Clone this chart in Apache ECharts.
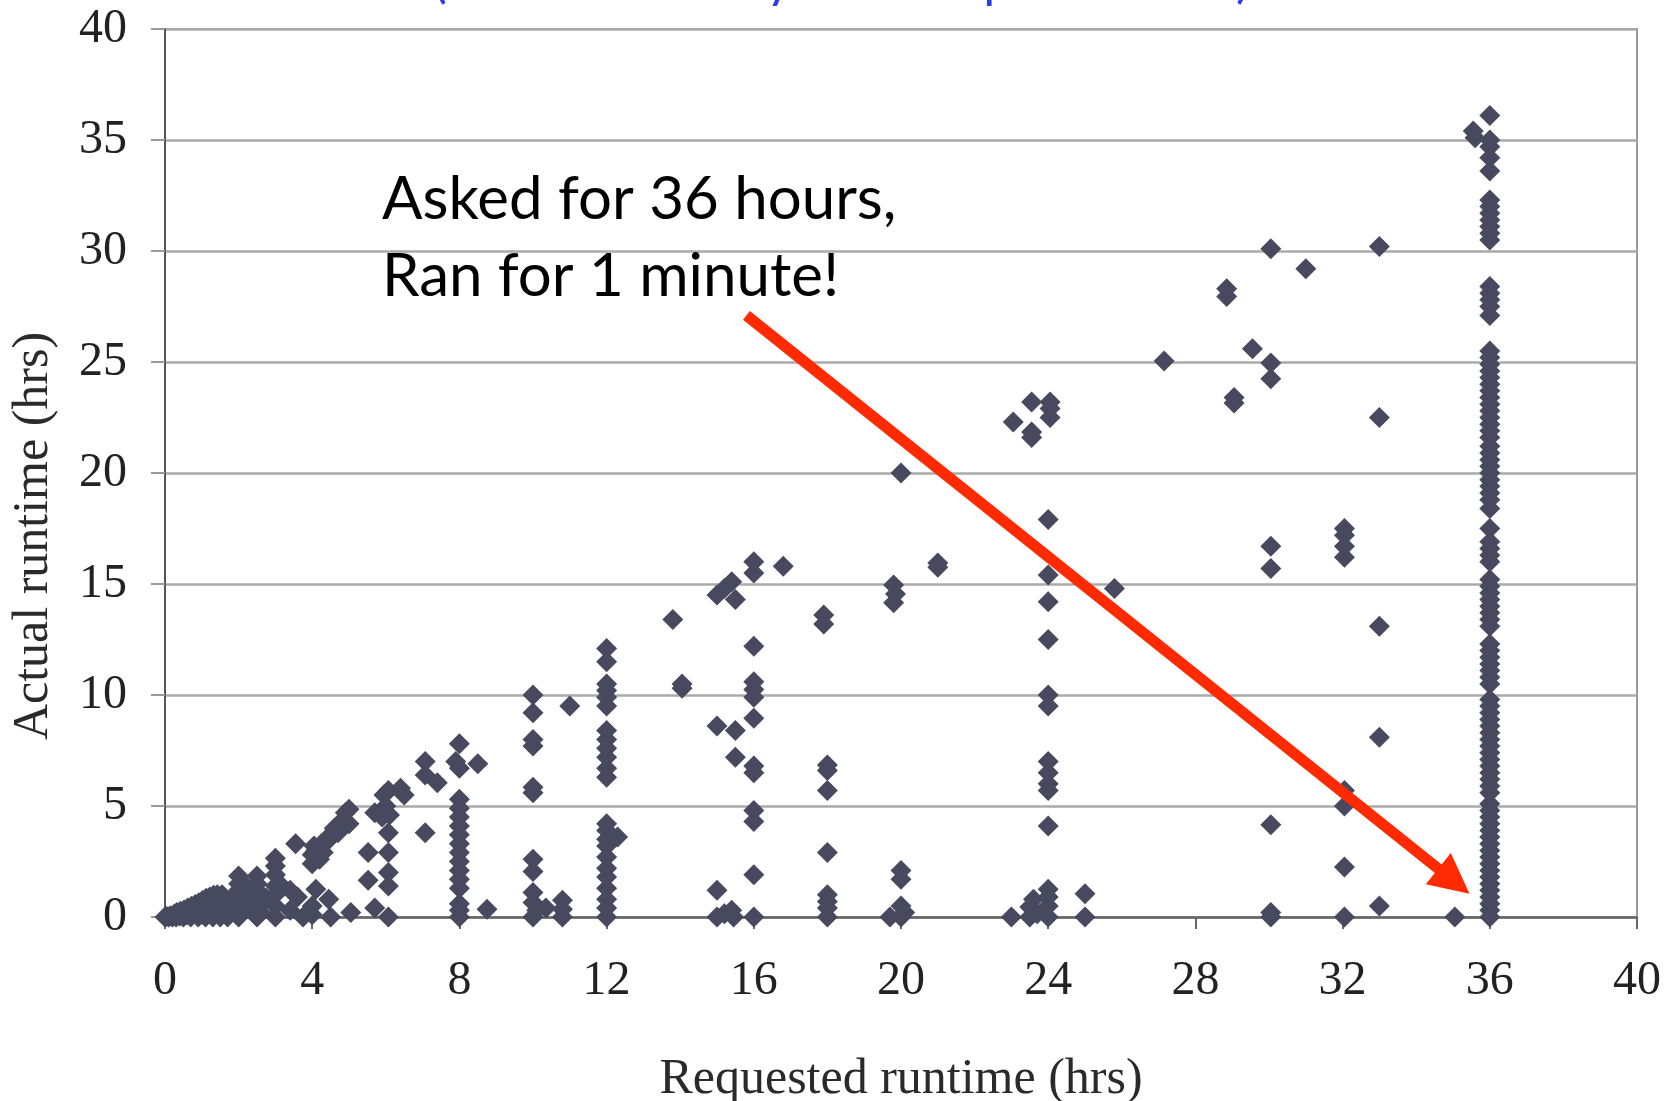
<!DOCTYPE html>
<html>
<head>
<meta charset="utf-8">
<script src="https://cdn.jsdelivr.net/npm/echarts@6/dist/echarts.min.js"></script>
<style>
html,body{margin:0;padding:0;background:#fff;}
#chart{width:1675px;height:1101px;}
</style>
</head>
<body>
<div id="chart"></div>
<script>
// ---- Data: [requested runtime (hrs), actual runtime (hrs)] ----
const reqUnder2 = [
  [0,0],[0.05,0.02],[0.1,0],[0.15,0.06],[0.2,0],[0.25,0.12],[0.3,0],[0.32,0.2],[0.4,0.05],[0.42,0.26],
  [0.5,0],[0.52,0.32],[0.6,0.1],[0.62,0.4],[0.7,0],[0.72,0.48],[0.8,0.2],[0.82,0.56],[0.9,0],[0.9,0.36],
  [0.92,0.64],[1.0,0.12],[1.0,0.46],[1.02,0.74],[1.1,0],[1.1,0.52],[1.12,0.84],[1.2,0.22],[1.22,0.9],
  [1.3,0],[1.3,0.56],[1.32,0.98],[1.4,0.3],[1.42,1.0],[1.5,0],[1.5,0.62],[1.55,1.0],[1.6,0.22],[1.62,0.8],
  [1.7,0],[1.7,0.45]
];
const req2to4 = [
  [2,0],[2,0.4],[2,0.8],[2,1.2],[2,1.5],[2,1.85],[1.95,1.0],[2.1,0.2],[2.2,1.4],[2.25,0.6],
  [2.5,0],[2.5,0.4],[2.5,0.8],[2.5,1.2],[2.5,1.5],[2.5,1.85],[2.4,1.0],[2.6,0.2],[2.75,0.85],
  [3,0],[3,0.5],[3,1.0],[3,1.4],[3,1.9],[3,2.3],[3,2.65],[3.2,1.35],[3.4,0.3],[3.4,1.2],
  [3.55,3.3],[3.6,0.9],[3.75,0]
];
const req4to7 = [
  [4,0.1],[4,0.5],[4.1,1.25],[4.0,2.4],[4.0,2.8],[4.05,3.2],[4.1,3.0],[4.2,2.6],[4.25,3.3],[4.3,2.9],
  [4.4,3.4],[4.45,0.8],[4.5,0],[4.5,3.7],[4.6,4.0],[4.7,3.8],[4.75,4.2],[4.85,4.4],[4.9,4.7],[5.0,4.85],
  [5.0,4.2],[5.05,0.2],[5.52,2.9],[5.52,1.65],[5.7,0.4],[5.7,4.7],[5.9,4.5],[5.95,5.5],[6.0,5.0],
  [6.1,4.6],[6.07,5.7],[6.07,3.8],[6.07,2.9],[6.07,2.0],[6.07,1.4],[6.07,0],[6.4,5.8],[6.5,5.5],
  [7.07,7.0],[7.07,6.4],[7.4,6.05],[7.07,3.8]
];
const req8to11 = [
  [8,7.8],[7.9,7.0],[8.0,6.7],[8.5,6.9],
  [8,5.3],[8,4.9],[8,4.5],[8,4.1],[8,3.7],[8,3.3],[8,2.9],[8,2.5],[8,2.1],[8,1.7],[8,1.3],
  [8,0.6],[8,0.3],[8,0],[8.75,0.35],
  [10,10],[10,9.2],[10,8.0],[10,7.7],[10,5.85],[10,5.6],[10,2.6],[10,2.05],[10,1.1],[10,0.65],
  [10.1,0.3],[10,0],[10.35,0.4],[10.8,0.75],[10.8,0.35],[10.8,0],[11.0,9.5]
];
const req12 = [
  [12,12.1],[12,11.5],[12,10.5],[12,10.2],[12,9.9],[12,9.5],[12,8.4],[12,8.0],[12,7.6],[12,7.2],
  [12,6.7],[12,6.3],[12,4.2],[12,3.9],[12,3.5],[12,3.2],[12,2.7],[12,2.2],[12,1.8],[12,1.3],
  [12,0.8],[12,0.4],[12,0],[12.3,3.6]
];
const req13to21 = [
  [13.8,13.4],[14.05,10.5],[14.05,10.3],
  [15.0,14.5],[15.2,14.8],[15.4,15.1],[15.5,14.3],[15.0,8.6],[15.5,8.4],[15.5,7.2],[15.0,1.2],
  [15.0,0],[15.2,0.15],[15.4,0.3],[15.45,0],
  [16,16.0],[16,15.5],[16,12.2],[16,10.6],[16,10.25],[16,9.9],[16,8.95],[16,6.8],[16,6.5],[16,4.8],
  [16,4.3],[16,1.9],[16,0],[16.8,15.8],
  [17.9,13.6],[17.9,13.2],[18,6.85],[18,6.6],[18,5.7],[18,2.9],[18,1.0],[18,0.7],[18,0.4],[18,0],
  [20,20],[19.8,14.95],[19.85,14.55],[19.8,14.15],[20,2.1],[20,1.7],[20,0.5],[20,0],[19.7,0],[20.1,0.2],
  [21,15.95],[21,15.75]
];
const req23to26 = [
  [23.05,22.3],[23.55,23.2],[23.55,21.85],[23.55,21.6],[24.05,23.2],[24.05,22.9],[24.05,22.5],
  [24,17.9],[24,15.4],[24,14.2],[24,12.5],[24,10.0],[24,9.5],[24,7.0],[24,6.5],[24,6.0],[24,5.7],
  [24,4.1],[24,1.25],[24,0.9],[24,0.5],[24,0],
  [23,0],[23.5,0.45],[23.5,0],[23.6,0.8],[23.7,0.15],
  [25,1.05],[25,0],[25.8,14.8]
];
const req27to35 = [
  [27.15,25.05],[28.85,28.3],[28.85,27.95],[29.05,23.4],[29.05,23.15],[29.55,25.6],
  [30.05,30.1],[30.05,24.95],[30.05,24.25],[30.05,16.7],[30.05,15.7],[30.05,4.15],[30.05,0.2],[30.05,0],
  [31.0,29.2],
  [32.05,17.5],[32.05,17.2],[32.05,16.7],[32.05,16.2],[32.05,5.7],[32.05,5.0],[32.05,2.25],[32.05,0],
  [33,30.2],[33,22.5],[33,13.1],[33,8.1],[33,0.5],
  [35.05,0],[35.55,35.4],[35.6,35.1]
];
const req36Actual = [
  36.1,35.0,34.7,34.2,33.6,32.3,32.0,31.7,31.4,31.1,30.8,30.5,28.4,28.1,27.8,27.5,27.1,
  25.5,25.2,24.9,24.6,24.3,24.0,23.7,23.4,23.1,22.8,22.5,22.2,21.9,21.6,21.2,20.9,20.6,20.3,
  20.0,19.7,19.4,19.1,18.8,18.4,17.5,16.9,16.6,16.3,16.0,15.2,14.9,14.6,14.3,14.0,13.7,13.4,
  13.1,12.3,12.0,11.7,11.4,11.1,10.8,10.5,9.8,9.5,9.2,8.9,8.6,8.3,8.0,7.7,7.4,7.1,6.8,6.5,
  6.2,5.9,5.6,5.1,4.8,4.5,4.2,3.9,3.6,3.3,3.0,2.7,2.4,2.1,1.8,1.5,1.2,0.9,0.6,0.3,0
];
const xTicks = [0,4,8,12,16,20,24,28,32,36,40];
const yTicks = [0,5,10,15,20,25,30,35,40];
const noteLines = ['Asked for 36 hours,', 'Ran for 1 minute!'];
const arrowFrom = [15.8, 27.1];   // data coords of arrow tail
const arrowTo = [35.45, 1.05];    // data coords of arrow tip
const titleText = '(Users are lousy at their predictions)';

const points = [].concat(
  reqUnder2, req2to4, req4to7, req8to11, req12, req13to21, req23to26, req27to35,
  req36Actual.map(v => [36, v])
);

const chart = echarts.init(document.getElementById('chart'));
const serif = '"Liberation Serif", "Times New Roman", serif';

const option = {
  animation: false,
  backgroundColor: '#ffffff',
  grid: {left: 165, right: 38, top: 29, bottom: 184, show: true, containLabel: false,
         outerBoundsMode: 'none',
         borderColor: '#9a9a9a', borderWidth: 2, backgroundColor: 'transparent'},
  xAxis: {
    type: 'value', min: xTicks[0], max: xTicks[xTicks.length-1], interval: 4,
    name: 'Requested runtime (hrs)', nameLocation: 'middle', nameGap: 138,
    nameTextStyle: {fontFamily: serif, fontSize: 50, color: '#2a2a2a'},
    axisLine: {show: true, onZero: false, lineStyle: {color: '#666', width: 2.5}},
    axisTick: {show: true, length: 12, lineStyle: {color: '#666', width: 2}},
    axisLabel: {fontFamily: serif, fontSize: 48, color: '#222', margin: 40},
    splitLine: {show: false}
  },
  yAxis: {
    type: 'value', min: yTicks[0], max: yTicks[yTicks.length-1], interval: 5,
    name: 'Actual runtime (hrs)', nameLocation: 'middle', nameGap: 106,
    nameTextStyle: {fontFamily: serif, fontSize: 50, color: '#2a2a2a', padding: [0, 126, 0, 0]},
    axisLine: {show: true, onZero: false, lineStyle: {color: '#555', width: 2}},
    axisTick: {show: true, length: 14, lineStyle: {color: '#999', width: 2}},
    axisLabel: {fontFamily: serif, fontSize: 48, color: '#222', margin: 38},
    splitLine: {show: true, lineStyle: {color: '#aaaaaa', width: 2.5}}
  },
  series: [{
    type: 'scatter',
    symbol: 'diamond',
    symbolSize: 21,
    itemStyle: {color: '#474a5e', opacity: 1},
    data: points
  }]
};
chart.setOption(option);

// Annotation: text and red arrow
const p1 = chart.convertToPixel({gridIndex: 0}, arrowFrom);
const p2 = chart.convertToPixel({gridIndex: 0}, arrowTo);
const dx = p2[0] - p1[0], dy = p2[1] - p1[1];
const len = Math.sqrt(dx*dx + dy*dy);
const ux = dx / len, uy = dy / len;
const headLen = 40, headHalf = 20;
const base = [p2[0] - ux*headLen, p2[1] - uy*headLen];
const nx = -uy, ny = ux;

chart.setOption({
  graphic: [
    {type: 'text', left: 433, top: -46, z: 10,
     style: {text: titleText, font: '52px Lato, "Noto Sans", sans-serif', fill: '#2b3fe6'}},
    {type: 'text', x: 382, y: 200, z: 10,
     style: {text: noteLines[0], font: '60px Lato, "Open Sans", sans-serif', fill: '#000',
             verticalAlign: 'middle', align: 'left'}},
    {type: 'text', x: 382, y: 277, z: 10,
     style: {text: noteLines[1], font: '60px Lato, "Open Sans", sans-serif', fill: '#000',
             verticalAlign: 'middle', align: 'left'}},
    {type: 'line', z: 10,
     shape: {x1: p1[0], y1: p1[1], x2: base[0] + ux*4, y2: base[1] + uy*4},
     style: {stroke: '#ff2a00', lineWidth: 11}},
    {type: 'polygon', z: 10,
     shape: {points: [[p2[0], p2[1]],
                      [base[0] + nx*headHalf, base[1] + ny*headHalf],
                      [base[0] - nx*headHalf, base[1] - ny*headHalf]]},
     style: {fill: '#ff2a00'}}
  ]
});
</script>
</body>
</html>
